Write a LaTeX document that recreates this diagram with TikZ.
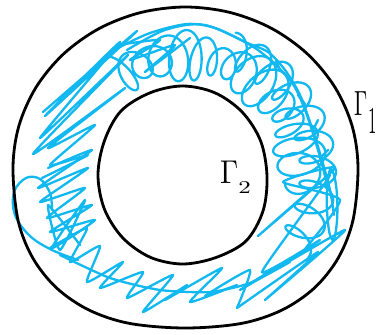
\documentclass[tikz,border=0pt]{standalone}
\begin{document}
\begin{tikzpicture}[x=1pt,y=-1pt, line cap=round, line join=round,
  outline/.style={line width=2.8pt, draw=black},
  scribble/.style={line width=2.3pt, draw=scrib},
  lab/.style={inner sep=0pt, anchor=base west}]
\definecolor{scrib}{HTML}{12B8F0}
\useasboundingbox[fill=white] (0,0) rectangle (381,335);
% ---- blue scribble ----
% looped strokes along the top and right
\draw[scribble] plot[samples=700, domain=125:-5, variable=\t]
  ({185+116*cos(\t)+(20+6*sin(9*\t))*cos(40*\t+30)*cos(\t)-(12+4*cos(7*\t))*sin(40*\t+30)*sin(\t)},
   {172-116*sin(\t)-(20+6*sin(9*\t))*cos(40*\t+30)*sin(\t)-(12+4*cos(7*\t))*sin(40*\t+30)*cos(\t)});
\draw[scribble] plot[samples=500, domain=70:-35, variable=\t]
  ({186+132*cos(\t)+18*cos(31*\t)*cos(\t)-9*sin(31*\t)*sin(\t)},
   {172-130*sin(\t)-18*cos(31*\t)*sin(\t)-9*sin(31*\t)*cos(\t)});
% outer arc of the scribble with spikes
\draw[scribble] plot[smooth, tension=0.5] coordinates {
  (120,47) (150,33) (187,24) (215,28) (245,42) (268,52) (285,70) (300,95)
  (312,128) (322,160) (330,190) (334,215)};
\draw[scribble] plot[smooth, tension=0.5] coordinates {
  (127,50) (165,30) (205,25) (255,48) (290,80) (305,110) (318,150) (326,180)};
\draw[scribble] (276,60) -- (280,70) (298,95) -- (305,104) (318,120) -- (313,130) (328,150) -- (320,158);
% long diagonal strokes, top left
\draw[scribble] plot[smooth, tension=0.3] coordinates {
  (43,112) (137,31) (45,116) (120,42) (40,138) (128,55) (33,154) (125,88)
  (48,148) (95,125) (50,165) (88,155) (42,178)};
\draw[scribble] plot[smooth, tension=0.3] coordinates {
  (118,45) (160,40) (130,60) (175,45) (145,72) (190,38)};
% dense zigzag, left
\draw[scribble] plot[smooth, tension=0.3] coordinates {
  (48,168) (92,150) (38,188) (88,168) (40,202) (85,188) (47,218) (92,205)
  (50,232) (95,220) (52,248) (85,200) (60,250) (48,205) (80,245)};
% loop on the left edge
\draw[scribble] plot[smooth, tension=0.6] coordinates {
  (52,210) (50,193) (40,179) (26,178) (14,192) (15,215) (30,236) (52,250) (78,260)};
% bottom zigzag
\draw[scribble] plot[smooth, tension=0.3] coordinates {
  (50,248) (87,228) (70,262) (100,246) (87,282) (123,262) (100,288) (143,272)
  (127,298) (173,275) (143,312) (187,285) (165,300) (222,268) (190,302)
  (237,285) (205,296) (250,270) (237,308)};
\draw[scribble] plot[smooth, tension=0.4] coordinates {
  (60,255) (110,278) (160,290) (210,292) (250,283) (290,262)};
% bottom right strokes
\draw[scribble] plot[smooth, tension=0.3] coordinates {
  (237,308) (318,252) (265,300) (345,230) (240,290) (320,240) (262,272)
  (330,175) (258,236) (335,168) (283,182) (340,200) (300,255)};
\draw[scribble] plot[smooth cycle, tension=0.8] coordinates {
  (332,170) (337,195) (336,230) (331,238) (327,210) (328,180)};
% ---- outer curve Gamma_1 ----
\draw[outline] plot[smooth cycle, tension=0.55] coordinates {
  (358,167.5) (352.1,125.9) (334.9,87.2) (307.5,54) (271.8,28.5) (230.2,12.5)
  (185.5,7) (140.8,12.5) (99.2,28.5) (63.5,54) (36.1,87.2) (18.9,125.9)
  (13,167.5) (17.9,219.6) (32.5,257.5) (56.3,287.7) (88.7,309.9) (129.5,323.4)
  (185.5,328) (241.5,323.4) (282.3,309.9) (314.7,287.7) (338.5,257.5) (353.1,219.6)};
% ---- inner curve Gamma_2 ----
\draw[outline] plot[smooth cycle, tension=0.55] coordinates {
  (267,176) (260.6,140.9) (242.2,112.1) (214.9,92.8) (182.5,86) (150.1,92.8)
  (121,111) (104.4,140.9) (98,175) (104.4,209.1) (122.8,237.9) (150.1,257.2)
  (182.5,264) (216,257.5) (246,241) (263,211)};
\node[lab] (g1) at (354,115) {\scalebox{2.1}[3.5]{$\Gamma$}\hspace{1pt}\raisebox{-18pt}{\scalebox{1.6}[3.8]{$1$}}};
\node[lab] (g2) at (220,183) {\scalebox{2.9}[3.3]{$\Gamma$}\hspace{0pt}\raisebox{-10pt}{\scalebox{2.5}[1.8]{$2$}}};
\end{tikzpicture}
\end{document}
